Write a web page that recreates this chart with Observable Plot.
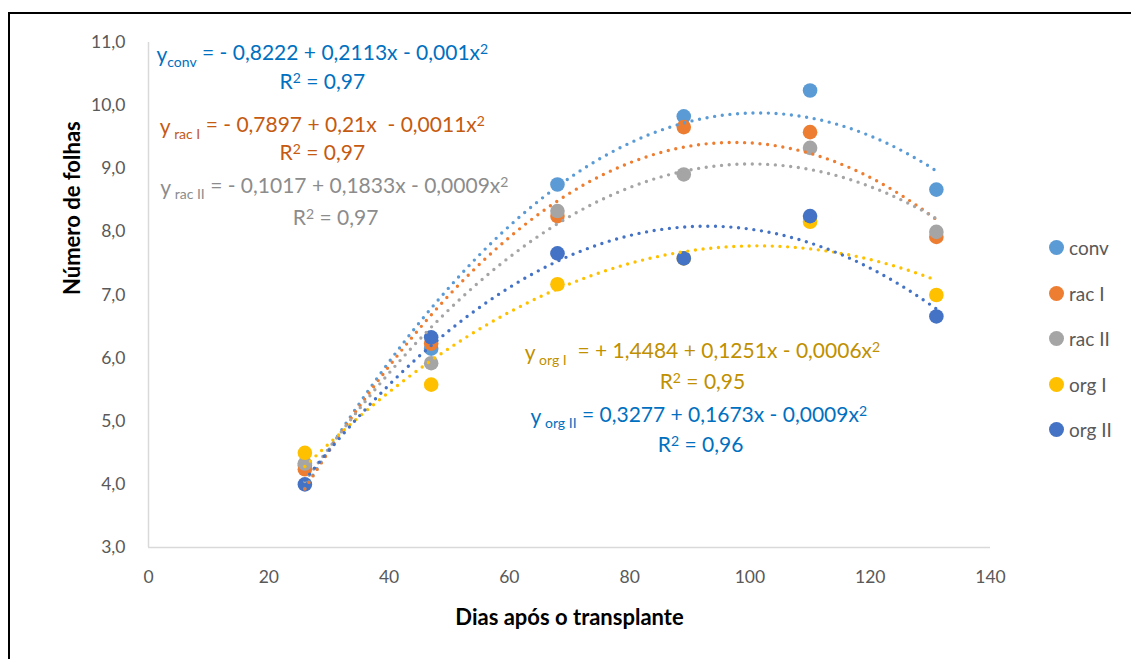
<!DOCTYPE html>
<html>
<head>
<meta charset="utf-8">
<script src="https://cdn.jsdelivr.net/npm/d3@7"></script>
<script src="https://cdn.jsdelivr.net/npm/@observablehq/plot@0.6"></script>
<style>
  html, body { margin: 0; padding: 0; background: #fff; overflow: hidden; }
  #wrap { position: relative; width: 1131px; height: 659px; font-family: Lato, "Open Sans", sans-serif; }
  #border { position: absolute; left: 8px; top: 12px; width: 1200px; height: 700px; border: 2px solid #000; pointer-events: none; }
  #legend { position: absolute; left: 1049px; top: 225px; color: #595959; font-size: 19px; }
  #legend .item { display: flex; align-items: center; height: 45.5px; }
  #legend .sw { width: 15px; height: 15px; border-radius: 50%; margin-right: 5px; }
</style>
</head>
<body>
<div id="wrap"><div id="chart"></div><div id="legend"></div><div id="border"></div></div>
<script>
// ---- data ----
const days = [26, 47, 68, 89, 110, 131];
const seriesNames = ["conv", "rac I", "rac II", "org I", "org II"];
const conv  = [4.30, 6.15, 8.75, 9.83, 10.24, 8.67];
const racI  = [4.24, 6.23, 8.25, 9.66, 9.58, 7.92];
const racII = [4.33, 5.92, 8.33, 8.91, 9.33, 8.00];
const orgI  = [4.50, 5.58, 7.17, 7.58, 8.16, 7.00];
const orgII = [4.00, 6.33, 7.66, 7.58, 8.25, 6.66];
const seriesValues = [conv, racI, racII, orgI, orgII];
const colors = ["#5B9BD5", "#ED7D31", "#A5A5A5", "#FFC000", "#4472C4"];
const xTicks = [0, 20, 40, 60, 80, 100, 120, 140];
const yTicks = [3, 4, 5, 6, 7, 8, 9, 10, 11];

// equation labels ("§" delimits the subscript, "^" marks the superscript)
const eqSubs  = ["conv", " rac I", " rac II", " org I", " org II"];
const eqRest  = [" = - 0,8222 + 0,2113x - 0,001x^2", " = - 0,7897 + 0,21x  - 0,0011x^2", " = - 0,1017 + 0,1833x - 0,0009x^2", "  = + 1,4484 + 0,1251x - 0,0006x^2", " = 0,3277 + 0,1673x - 0,0009x^2"];
const r2Texts = ["R^2^ = 0,97", "R^2^ = 0,97", "R^2^ = 0,97", "R^2^ = 0,95", "R^2^ = 0,96"];
const eqColors = ["#0070C0", "#C55A11", "#8C8C8C", "#BF9000", "#0070C0"];
const eqX  = [28.9, 28.9, 30.9, 92.1, 91.5];
const eqY  = [10.79, 9.65, 8.69, 6.07, 5.06];
const r2X  = [28.9, 28.9, 31.1, 92.1, 91.8];
const r2Y  = [10.37, 9.24, 8.21, 5.61, 4.62];

// ---- tidy points ----
const points = [];
seriesNames.forEach((s, i) => days.forEach((d, j) => points.push({series: s, x: d, y: seriesValues[i][j]})));

// least-squares quadratic fit (like a polynomial trendline of order 2)
function quadFit(xs, ys) {
  const S = k => d3.sum(xs, x => x ** k);
  const T = k => d3.sum(xs, (x, i) => ys[i] * x ** k);
  const A = [[S(0), S(1), S(2), T(0)], [S(1), S(2), S(3), T(1)], [S(2), S(3), S(4), T(2)]];
  for (let c = 0; c < 3; c++) {
    for (let r = c + 1; r < 3; r++) {
      const f = A[r][c] / A[c][c];
      for (let k = c; k < 4; k++) A[r][k] -= f * A[c][k];
    }
  }
  const b = [0, 0, 0];
  for (let r = 2; r >= 0; r--) {
    let s = A[r][3];
    for (let k = r + 1; k < 3; k++) s -= A[r][k] * b[k];
    b[r] = s / A[r][r];
  }
  return b;
}
const curves = [];
seriesNames.forEach((s, i) => {
  const [a, b, c] = quadFit(days, seriesValues[i]);
  d3.range(days[0], days[days.length - 1] + 0.001, 0.5).forEach(x => curves.push({series: s, x, y: a + b * x + c * x * x}));
});

const eqLabels = seriesNames.map((s, i) => ({x: eqX[i], y: eqY[i], text: "y§" + eqSubs[i] + "§" + eqRest[i], color: eqColors[i]}));
const r2Labels = seriesNames.map((s, i) => ({x: r2X[i], y: r2Y[i], text: r2Texts[i], color: eqColors[i]}));

const fmt = d => d.toFixed(1).replace(".", ",");

const chart = Plot.plot({
  width: 1131,
  height: 659,
  marginLeft: 148,
  marginRight: 141,
  marginTop: 42,
  marginBottom: 112,
  style: {fontFamily: "Lato, 'Open Sans', sans-serif", fontSize: "17px", color: "#595959", background: "transparent"},
  x: {domain: [0, 140]},
  y: {domain: [3, 11]},
  color: {domain: seriesNames, range: colors},
  marks: [
    Plot.ruleX([0], {stroke: "#D9D9D9", strokeWidth: 1.5}),
    Plot.ruleY([3], {stroke: "#D9D9D9", strokeWidth: 1.5}),
    Plot.axisX({ticks: xTicks, tickSize: 0, tickPadding: 23, label: null, fontSize: 17.5}),
    Plot.axisY({ticks: yTicks, tickSize: 0, tickPadding: 23, tickFormat: fmt, label: null, fontSize: 17.5}),
    Plot.text(["Dias após o transplante"], {frameAnchor: "bottom", dy: 77, fontWeight: "bold", fontSize: 22, fill: "#000"}),
    Plot.text(["Número de folhas"], {frameAnchor: "left", dx: -76, rotate: -90, fontWeight: "bold", fontSize: 22, fill: "#000"}),
    Plot.dot(points, {x: "x", y: "y", fill: "series", r: 7.3}),
    Plot.line(curves, {x: "x", y: "y", z: "series", stroke: "series", strokeWidth: 3.4, strokeDasharray: "0 7.7", strokeLinecap: "round"}),
    Plot.text(eqLabels, {x: "x", y: "y", text: "text", fill: "color", fontSize: 21}),
    Plot.text(r2Labels, {x: "x", y: "y", text: "text", fill: "color", fontSize: 21})
  ]
});

// subscripts / superscripts in the equation labels
d3.select(chart).selectAll("text").each(function () {
  const t = this.textContent;
  if (t.startsWith("y§")) {
    const parts = t.split("§");
    const rest = parts[2].split("^");
    const el = d3.select(this);
    el.text(null).style("white-space", "pre");
    el.append("tspan").text("y");
    el.append("tspan").attr("font-size", "14px").attr("dy", "0.3em").text(parts[1]);
    el.append("tspan").attr("dy", "-0.3em").text(rest[0]);
    if (rest.length > 1) {
      el.append("tspan").attr("font-size", "14px").attr("dy", "-0.45em").text(rest[1]);
    }
  } else if (t.startsWith("R^")) {
    const parts = t.split("^");
    const el = d3.select(this);
    el.text(null).style("white-space", "pre");
    el.append("tspan").text(parts[0]);
    el.append("tspan").attr("font-size", "14px").attr("dy", "-0.45em").text(parts[1]);
    el.append("tspan").attr("dy", "0.3em").text(parts[2]);
  }
});

document.getElementById("chart").appendChild(chart);

// legend
const legend = d3.select("#legend");
seriesNames.forEach((s, i) => {
  const it = legend.append("div").attr("class", "item");
  it.append("div").attr("class", "sw").style("background", colors[i]);
  it.append("span").text(s);
});
</script>
</body>
</html>
